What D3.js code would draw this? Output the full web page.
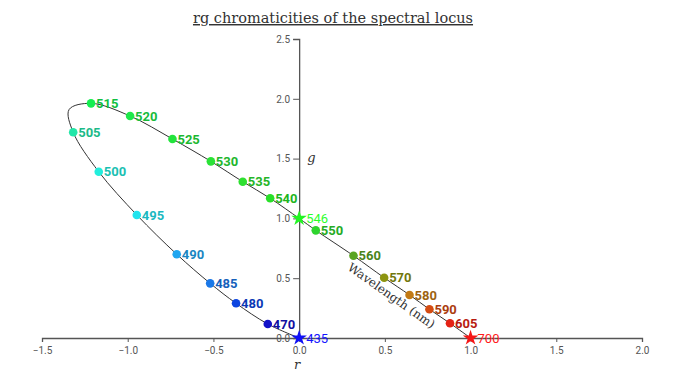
<!DOCTYPE html>
<html>
<head>
<meta charset="utf-8">
<script src="https://cdn.jsdelivr.net/npm/d3@7"></script>
<style>
  body { margin: 0; background: #fff; }
  svg { display: block; }
  .serif { font-family: 'DejaVu Serif', serif; }
</style>
</head>
<body>
<script>
// spectral locus points (r, g chromaticities)
const wavelengths = [435, 470, 480, 485, 490, 495, 500, 505, 510, 515, 520, 525, 530, 535, 540, 546, 550, 560, 570, 580, 590, 605, 700];
const rValues = [0, -0.183, -0.368, -0.519, -0.714, -0.947, -1.169, -1.318, -1.342, -1.214, -0.986, -0.739, -0.515, -0.329, -0.169, 0, 0.097, 0.317, 0.496, 0.644, 0.76, 0.88, 1.0];
const gValues = [0, 0.117, 0.29, 0.457, 0.70, 1.029, 1.39, 1.72, 1.91, 1.962, 1.856, 1.664, 1.477, 1.307, 1.168, 1.0, 0.9, 0.688, 0.504, 0.36, 0.24, 0.123, 0];
const primaries = [435, 546, 700];   // drawn as stars
const unmarked = [510];              // on the curve but no marker
const xTicks = [-1.5, -1.0, -0.5, 0.0, 0.5, 1.0, 1.5, 2.0];
const yTicks = [0.0, 0.5, 1.0, 1.5, 2.0, 2.5];

const markColor = {
  435: '#1010f5', 470: '#1212c8', 480: '#0d45e0', 485: '#1a78e8', 490: '#20a6f0',
  495: '#22e4ee', 500: '#22eedc', 505: '#22e6a8', 510: '#22e880', 515: '#14ee50',
  520: '#1ee84a', 525: '#22e43c', 530: '#2ae236', 535: '#2ee030', 540: '#28e028',
  546: '#22f522', 550: '#2ed42e', 560: '#5aa420', 570: '#8c9410', 580: '#c27a14',
  590: '#d44c12', 605: '#e42214', 700: '#f51616'
};

const width = 679, height = 388;
const svg = d3.select('body').append('svg')
  .attr('width', width)
  .attr('height', height);

const x = d3.scaleLinear().domain([-1.5, 2.0]).range([42, 642]);
const y = d3.scaleLinear().domain([0, 2.5]).range([338, 39]);

const points = wavelengths.map((w, i) => ({ w, r: rValues[i], g: gValues[i] }));

// axes
const xAxis = svg.append('g')
  .attr('transform', `translate(0,${y(0)})`)
  .call(d3.axisBottom(x).tickValues(xTicks).tickFormat(d3.format('.1f')).tickSizeOuter(0).tickSize(4));
const yAxis = svg.append('g')
  .attr('transform', `translate(${x(0)},0)`)
  .call(d3.axisLeft(y).tickValues(yTicks).tickFormat(d3.format('.1f')).tickSizeOuter(0).tickSize(6));

[xAxis, yAxis].forEach(a => {
  a.select('.domain').attr('stroke', '#555').attr('stroke-width', 1.3);
  a.selectAll('.tick line').attr('stroke', '#555');
  a.selectAll('.tick text')
    .attr('fill', '#555')
    .attr('font-family', 'Roboto, sans-serif')
    .attr('font-size', 10);
});
xAxis.selectAll('.tick text').attr('dy', '0.9em');
yAxis.selectAll('.tick text').attr('x', -9);

// axis labels
svg.append('text')
  .attr('class', 'serif')
  .attr('x', x(0) - 2).attr('y', 369)
  .attr('text-anchor', 'middle')
  .attr('font-style', 'italic')
  .attr('font-size', 13)
  .attr('fill', '#333')
  .text('r');
svg.append('text')
  .attr('class', 'serif')
  .attr('x', x(0) + 8).attr('y', y(1.5) + 3)
  .attr('font-style', 'italic')
  .attr('font-size', 13)
  .attr('fill', '#333')
  .text('g');

// title
svg.append('text')
  .attr('class', 'serif')
  .attr('x', 333).attr('y', 23)
  .attr('text-anchor', 'middle')
  .attr('font-size', 14.5)
  .attr('text-decoration', 'underline')
  .attr('fill', '#333')
  .text('rg chromaticities of the spectral locus');

// locus curve
const line = d3.line()
  .x(d => x(d.r))
  .y(d => y(d.g))
  .curve(d3.curveCatmullRom.alpha(0.5));

svg.append('path')
  .datum(points)
  .attr('d', line)
  .attr('fill', 'none')
  .attr('stroke', '#333')
  .attr('stroke-width', 1);

// wavelength label along the line
const lx = x(0.525), ly = y(0.325);
svg.append('text')
  .attr('class', 'serif')
  .attr('transform', `translate(${lx},${ly}) rotate(35.2)`)
  .attr('text-anchor', 'middle')
  .attr('font-size', 12)
  .attr('fill', '#333')
  .text('Wavelength (nm)');

const marked = points.filter(d => !unmarked.includes(d.w));

// dots
svg.selectAll('circle.pt')
  .data(marked.filter(d => !primaries.includes(d.w)))
  .join('circle')
  .attr('class', 'pt')
  .attr('cx', d => x(d.r))
  .attr('cy', d => y(d.g))
  .attr('r', 4.3)
  .attr('fill', d => markColor[d.w]);

// stars for the primaries
svg.selectAll('path.star')
  .data(marked.filter(d => primaries.includes(d.w)))
  .join('path')
  .attr('class', 'star')
  .attr('transform', d => `translate(${x(d.r)},${y(d.g)})`)
  .attr('d', d3.symbol(d3.symbolStar, 75))
  .attr('fill', d => markColor[d.w]);

// labels
svg.selectAll('text.lbl')
  .data(marked)
  .join('text')
  .attr('class', 'lbl')
  .attr('x', d => x(d.r) + (primaries.includes(d.w) ? 7 : 5))
  .attr('y', d => y(d.g))
  .attr('dy', '0.36em')
  .attr('font-family', 'Roboto, sans-serif')
  .attr('font-size', 13)
  .attr('font-weight', d => primaries.includes(d.w) ? 'normal' : 'bold')
  .attr('fill', d => primaries.includes(d.w)
    ? d3.color(markColor[d.w]).brighter(0.6).formatHex()
    : d3.color(markColor[d.w]).darker(0.6).formatHex())
  .text(d => d.w);
</script>
</body>
</html>
